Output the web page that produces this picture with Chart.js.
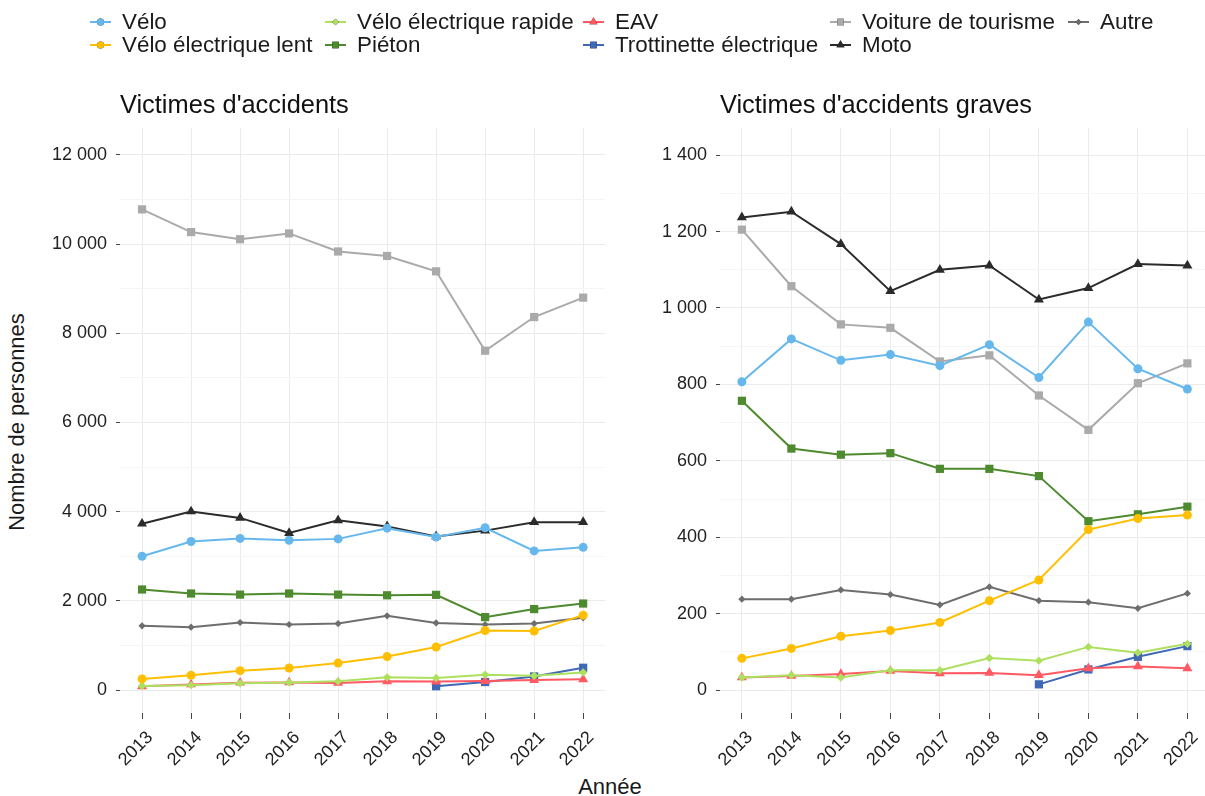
<!DOCTYPE html>
<html lang="fr">
<head>
<meta charset="utf-8">
<script src="https://cdn.jsdelivr.net/npm/chart.js@4/dist/chart.umd.min.js"></script>
<style>
  html, body { margin: 0; padding: 0; background: #fff; overflow: hidden; }
  body { width: 1205px; height: 796px; position: relative; font-family: "Liberation Sans", Arial, sans-serif; color: #1a1a1a; }
  #legend { position: absolute; left: 90px; top: 10px; display: grid; grid-template-rows: 23px 23px; grid-auto-flow: column;
            grid-template-columns: 235px 258px 247px 238px auto; }
  .item { display: flex; align-items: center; font-size: 22.4px; line-height: 23px; white-space: nowrap; }
  .item canvas { margin-right: 11px; }
  .panel { position: absolute; top: 88px; height: 685px; width: 571px; }
  #left { left: 40px; }
  #right { left: 640px; }
  .axis-title { position: absolute; font-size: 22px; white-space: nowrap; }
  #ytitle { left: 17px; top: 422px; transform: translate(-50%, -50%) rotate(-90deg); }
  #xtitle { left: 610px; top: 787px; transform: translate(-50%, -50%); }
</style>
</head>
<body>
<div id="legend"></div>
<div class="panel" id="left"><canvas id="chartAll"></canvas></div>
<div class="panel" id="right"><canvas id="chartGrave"></canvas></div>
<div class="axis-title" id="ytitle">Nombre de personnes</div>
<div class="axis-title" id="xtitle">Année</div>
<script>
// categories
const years = [2013, 2014, 2015, 2016, 2017, 2018, 2019, 2020, 2021, 2022];
const categories = ['Vélo', 'Vélo électrique lent', 'Vélo électrique rapide', 'Piéton', 'EAV',
  'Trottinette électrique', 'Voiture de tourisme', 'Moto', 'Autre'];

// Victimes d'accidents
const veloAll     = [3000, 3330, 3400, 3360, 3390, 3630, 3430, 3640, 3120, 3200];
const veLentAll   = [250, 330, 435, 495, 605, 750, 965, 1335, 1325, 1680];
const veRapideAll = [90, 110, 150, 170, 195, 285, 270, 345, 320, 395];
const pietonAll   = [2255, 2165, 2140, 2165, 2140, 2125, 2135, 1635, 1815, 1940];
const eavAll      = [85, 125, 165, 170, 160, 195, 190, 200, 225, 240];
const trottAll    = [null, null, null, null, null, null, 85, 180, 305, 500];
const voitureAll  = [10780, 10270, 10110, 10240, 9835, 9735, 9390, 7610, 8365, 8800];
const motoAll     = [3730, 4005, 3860, 3520, 3805, 3670, 3445, 3575, 3765, 3765];
const autreAll    = [1440, 1410, 1515, 1470, 1490, 1665, 1505, 1470, 1490, 1620];

// Victimes d'accidents graves
const veloGrave     = [807, 919, 863, 878, 849, 904, 818, 963, 841, 788];
const veLentGrave   = [83, 109, 141, 156, 177, 234, 288, 420, 449, 458];
const veRapideGrave = [33, 39, 33, 52, 52, 84, 77, 113, 98, 121];
const pietonGrave   = [757, 632, 616, 620, 579, 579, 560, 442, 460, 480];
const eavGrave      = [33, 37, 42, 50, 44, 45, 39, 57, 62, 57];
const trottGrave    = [null, null, null, null, null, null, 15, 54, 87, 115];
const voitureGrave  = [1205, 1057, 957, 948, 860, 876, 771, 681, 803, 855];
const motoGrave     = [1237, 1252, 1167, 1044, 1100, 1111, 1022, 1052, 1115, 1111];
const autreGrave    = [238, 238, 262, 250, 223, 270, 234, 230, 214, 253];

// tick labels
const yTicksAll = [0, 2000, 4000, 6000, 8000, 10000, 12000];
const yTicksGrave = [0, 200, 400, 600, 800, 1000, 1200, 1400];

const colors = ['#66b8ec', '#ffbf00', '#aee060', '#4e8a2e', '#ff5a63', '#3f68b5', '#aaaaaa', '#2b2b2b', '#6e6e6e'];
const shapes = ['circle', 'circle', 'rectRot', 'rect', 'triangle', 'rect', 'rect', 'triangle', 'rectRot'];
const radii = [4.5, 4.5, 4.2, 5.8, 5.8, 5.8, 5.8, 5.8, 3.6];

const FONT = '"Liberation Sans", Arial, sans-serif';

function fmt(v) {
    return String(v).replace(/\B(?=(\d{3})+(?!\d))/g, ' ');
}

// legend (ggplot style, filled column by column)
const legend = document.getElementById('legend');
categories.forEach((name, i) => {
    const item = document.createElement('div');
    item.className = 'item';
    const c = document.createElement('canvas');
    c.width = 21; c.height = 14;
    const ctx = c.getContext('2d');
    ctx.strokeStyle = colors[i];
    ctx.lineWidth = 2;
    ctx.beginPath(); ctx.moveTo(0, 7); ctx.lineTo(21, 7); ctx.stroke();
    Chart.helpers.drawPoint(ctx, {
        pointStyle: shapes[i], radius: radii[i] * 0.8, borderWidth: 0, rotation: 0
    }, 10.5, 7);
    ctx.fillStyle = colors[i];
    ctx.fill();
    item.appendChild(c);
    const span = document.createElement('span');
    span.textContent = name;
    item.appendChild(span);
    legend.appendChild(item);
});

function buildDatasets(series) {
    return series.map((vals, i) => ({
        label: categories[i],
        data: years.map((y, k) => ({ x: y, y: vals[k] })),
        borderColor: colors[i],
        backgroundColor: colors[i],
        borderWidth: 2,
        pointStyle: shapes[i],
        pointRadius: radii[i],
        pointBorderWidth: 0,
        pointHoverRadius: radii[i],
        spanGaps: false,
        clip: false
    }));
}

function makeChart(id, title, series, majors, xMin, xMax, yMin, yMax) {
    const step = majors[1] - majors[0];
    const ctx = document.getElementById(id).getContext('2d');
    return new Chart(ctx, {
        type: 'line',
        data: { datasets: buildDatasets(series) },
        options: {
            responsive: true,
            maintainAspectRatio: false,
            animation: false,
            layout: { padding: 0 },
            plugins: {
                legend: { display: false },
                tooltip: { enabled: false },
                title: {
                    display: true,
                    text: title,
                    align: 'start',
                    fullSize: false,
                    color: '#111',
                    font: { family: FONT, size: 25.4, weight: 'normal' },
                    padding: { top: 2.8, bottom: 6.7 }
                }
            },
            scales: {
                x: {
                    type: 'linear',
                    min: xMin,
                    max: xMax,
                    afterBuildTicks: (scale) => { scale.ticks = years.map(v => ({ value: v })); },
                    afterFit: (scale) => { scale.height = 60; },
                    border: { display: false },
                    grid: { color: '#ebebeb', lineWidth: 1, tickLength: 6, tickColor: '#444' },
                    ticks: {
                        maxRotation: 45, minRotation: 45, padding: 8, labelOffset: 8,
                        color: '#222',
                        font: { family: FONT, size: 18 },
                        callback: (v) => String(v)
                    }
                },
                y: {
                    min: yMin,
                    max: yMax,
                    afterBuildTicks: (scale) => {
                        const t = [];
                        for (let v = 0; v <= majors[majors.length - 1]; v += step / 2) t.push({ value: v });
                        scale.ticks = t;
                    },
                    afterFit: (scale) => { scale.width = 80; },
                    border: { display: false },
                    grid: {
                        color: (c) => majors.includes(c.tick.value) ? '#ebebeb' : '#f5f5f5',
                        tickColor: (c) => majors.includes(c.tick.value) ? '#444' : 'rgba(0,0,0,0)',
                        lineWidth: 1,
                        tickLength: 4
                    },
                    ticks: {
                        padding: 9,
                        color: '#222',
                        font: { family: FONT, size: 18 },
                        callback: (v) => majors.includes(v) ? fmt(v) : ''
                    }
                }
            }
        }
    });
}

makeChart('chartAll', "Victimes d'accidents",
    [veloAll, veLentAll, veRapideAll, pietonAll, eavAll, trottAll, voitureAll, motoAll, autreAll],
    yTicksAll, 2012.55, 2022.45, -515, 12605);

makeChart('chartGrave', "Victimes d'accidents graves",
    [veloGrave, veLentGrave, veRapideGrave, pietonGrave, eavGrave, trottGrave, voitureGrave, motoGrave, autreGrave],
    yTicksGrave, 2012.558, 2022.36, -60, 1471);
</script>
</body>
</html>
